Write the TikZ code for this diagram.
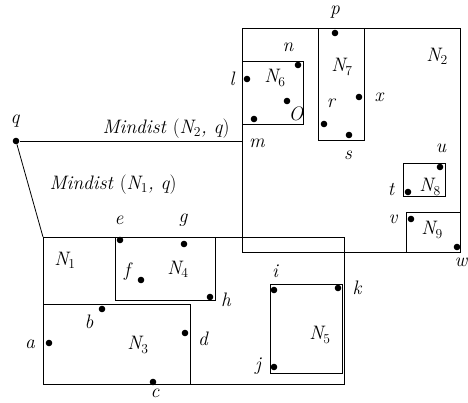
\documentclass[tikz,border=0pt]{standalone}
\usetikzlibrary{positioning, calc}
\newcommand{\rname}[1]{\textit{N}\textsubscript{\upshape #1}}

\begin{document}
\begin{tikzpicture}[
    x=1pt, y=-1pt,
    region/.style={rectangle, draw=black, line width=0.9pt, inner sep=0pt, outer sep=0pt, anchor=north west},
    dot/.style={circle, fill=black, inner sep=0pt, minimum size=6.6pt},
    lbl/.style={inner sep=0pt, font=\fontsize{19.5}{22}\selectfont\itshape},
    conn/.style={line width=0.8pt, color=black}
]
\useasboundingbox (0,0) rectangle (468,403);

% Regions
\node[region, minimum width=218pt, minimum height=224pt] (N2) at (242,28) {};
\node[region, minimum width=301pt, minimum height=147pt] (N1) at (43,237) {};
\node[region, minimum width=100pt, minimum height=63pt] (N4) at (115,237) {};
\node[region, minimum width=147pt, minimum height=80pt] (N3) at (43,304) {};
\node[region, minimum width=72pt, minimum height=89pt] (N5) at (270,284) {};
\node[region, minimum width=61pt, minimum height=63pt] (N6) at (242,61) {};
\node[region, minimum width=46pt, minimum height=112pt] (N7) at (318,28) {};
\node[region, minimum width=42pt, minimum height=33pt] (N8) at (403,163) {};
\node[region, minimum width=54pt, minimum height=40pt] (N9) at (406,212) {};

% Region labels
\node[lbl] (N1-lbl) at (65,260) {\rname{1}};
\node[lbl] (N2-lbl) at (437,56) {\rname{2}};
\node[lbl] (N3-lbl) at (138,345) {\rname{3}};
\node[lbl] (N4-lbl) at (178,269) {\rname{4}};
\node[lbl] (N5-lbl) at (320,335) {\rname{5}};
\node[lbl] (N6-lbl) at (275,78) {\rname{6}};
\node[lbl] (N7-lbl) at (342,67) {\rname{7}};
\node[lbl] (N8-lbl) at (430,187) {\rname{8}};
\node[lbl] (N9-lbl) at (432,230) {\rname{9}};

% Points
\node[dot] (q) at (16,141) {};
\node[dot] (a) at (49,343) {};
\node[dot] (b) at (102,309) {};
\node[dot] (c) at (153,382) {};
\node[dot] (d) at (185,333) {};
\node[dot] (e) at (120,240) {};
\node[dot] (f) at (141,280) {};
\node[dot] (g) at (184,244) {};
\node[dot] (h) at (210,297) {};
\node[dot] (i) at (274,290) {};
\node[dot] (j) at (274,367) {};
\node[dot] (k) at (338,288) {};
\node[dot] (l) at (247,79) {};
\node[dot] (m) at (254,119) {};
\node[dot] (n) at (298,65) {};
\node[dot] (O) at (287,101) {};
\node[dot] (p) at (335,33) {};
\node[dot] (r) at (324,124) {};
\node[dot] (s) at (349,135) {};
\node[dot] (x) at (359,97) {};
\node[dot] (t) at (408,192) {};
\node[dot] (u) at (440,167) {};
\node[dot] (v) at (411,219) {};
\node[dot] (w) at (457,247) {};

% Point labels
\node[lbl] (q-lbl) at (15,121) {q};
\node[lbl] (a-lbl) at (30,344) {a};
\node[lbl] (b-lbl) at (89,322) {b};
\node[lbl] (c-lbl) at (155,393) {c};
\node[lbl] (d-lbl) at (203,339) {d};
\node[lbl] (e-lbl) at (119,220) {e};
\node[lbl] (f-lbl) at (127,272) {f};
\node[lbl] (g-lbl) at (183,220) {g};
\node[lbl] (h-lbl) at (226,300) {h};
\node[lbl] (i-lbl) at (275,271) {i};
\node[lbl] (j-lbl) at (258,366) {j};
\node[lbl] (k-lbl) at (357,288) {k};
\node[lbl] (l-lbl) at (232,79) {l};
\node[lbl] (m-lbl) at (257,143) {m};
\node[lbl] (n-lbl) at (288,47) {n};
\node[lbl] (O-lbl) at (296,114) {O};
\node[lbl] (p-lbl) at (335,12) {p};
\node[lbl] (r-lbl) at (331,103) {r};
\node[lbl] (s-lbl) at (348,155) {s};
\node[lbl] (x-lbl) at (379,97) {x};
\node[lbl] (t-lbl) at (391,190) {t};
\node[lbl] (u-lbl) at (441,148) {u};
\node[lbl] (v-lbl) at (393,219) {v};
\node[lbl] (w-lbl) at (461,262) {w};

% Minimum distances
\draw[conn] (q) -- (q -| N2.west);
\draw[conn] (q) -- (N1.north west);
\node[lbl] (dist2) at (166,129) {Mindist {\upshape(}\rname{2}, q{\upshape)}};
\node[lbl] (dist1) at (113,185) {Mindist {\upshape(}\rname{1}, q{\upshape)}};

\end{tikzpicture}
\end{document}
